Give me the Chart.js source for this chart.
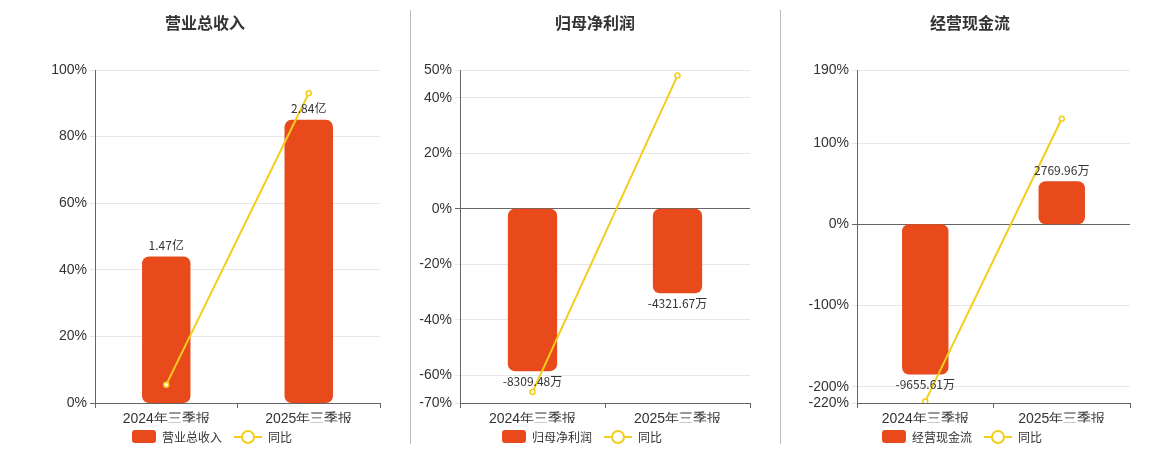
<!DOCTYPE html>
<html><head><meta charset="utf-8">
<script src="https://cdn.jsdelivr.net/npm/chart.js@4"></script>
<style>
body{margin:0;width:1160px;height:450px;background:#fff;font-family:"Noto Sans CJK SC","Noto Sans",sans-serif;position:relative;overflow:hidden}
.p{position:absolute;top:0;height:450px}
.t{position:absolute;top:10px;width:100%;text-align:center;font-weight:bold;font-size:16px;color:#333}
.sep{position:absolute;top:10px;height:434px;width:1px;background:#bbb}
.lg{position:absolute;top:428px;font-size:12px;color:#333;display:flex;align-items:center}
.sw{display:inline-block;width:24px;height:13px;background:#E84A1C;border-radius:3px;margin-right:6px}
.ln{display:inline-block;width:28px;height:14px;position:relative;margin:0 6px 0 12px}
.ln:before{content:"";position:absolute;left:0;right:0;top:6px;height:2px;background:#F2CE1A}
.ln:after{content:"";position:absolute;left:7px;top:0;width:10px;height:10px;border:2px solid #F2CE1A;border-radius:50%;background:#fff}
</style></head><body>
<div class="sep" style="left:410px"></div><div class="sep" style="left:780px"></div>
<script>
const categories=["2024年三季报","2025年三季报"];
const titles=["营业总收入","归母净利润","经营现金流"];
const barValues1=[1.47,2.84];const barLabels1=["1.47亿","2.84亿"];
const yoy1=[5.5,93];
const barValues2=[-8309.48,-4321.67];const barLabels2=["-8309.48万","-4321.67万"];
const yoy2=[-66,48];
const barValues3=[-9655.61,2769.96];const barLabels3=["-9655.61万","2769.96万"];
const yoy3=[-218,130];
const ticks1=[0,20,40,60,80,100];
const ticks2=[-70,-60,-40,-20,0,20,40,50];
const ticks3=[-220,-200,-100,0,100,190];
const panels=[
 {left:0,w:410,yw:95,pr:30,bars:barValues1,labels:barLabels1,yoy:yoy1,ticks:ticks1,bmin:0,bmax:3.34,lgx:132},
 {left:410,w:370,yw:50,pr:30,bars:barValues2,labels:barLabels2,yoy:yoy2,ticks:ticks2,bmin:-70*142,bmax:50*142,lgx:92},
 {left:780,w:380,yw:77,pr:30,bars:barValues3,labels:barLabels3,yoy:yoy3,ticks:ticks3,bmin:-220*52.2,bmax:190*52.2,lgx:102}
];
const labelPlugin={id:'bl',afterDatasetsDraw(c){const ctx=c.ctx;const m=c.getDatasetMeta(0);const L=c.options.plugins.bl.labels;
 ctx.save();ctx.font='12px "Noto Sans CJK SC",sans-serif';ctx.fillStyle='#333';ctx.textAlign='center';
 m.data.forEach((b,i)=>{const v=c.data.datasets[0].data[i];if(v>=0){ctx.textBaseline='bottom';ctx.fillText(L[i],b.x,b.y-5);}else{ctx.textBaseline='top';ctx.fillText(L[i],b.x,b.y+4);}});ctx.restore();}};
panels.forEach((p,k)=>{
 const d=document.createElement('div');d.className='p';d.style.left=p.left+'px';d.style.width=p.w+'px';
 d.innerHTML='<div class="t">'+titles[k]+'</div><canvas width="'+p.w+'" height="450"></canvas><div class="lg" style="left:'+p.lgx+'px"><span class="sw"></span>'+titles[k]+'<span class="ln"></span>同比</div>';
 document.body.appendChild(d);
 new Chart(d.querySelector('canvas'),{type:'bar',plugins:[labelPlugin],
  data:{labels:categories,datasets:[
   {type:'bar',data:p.bars,yAxisID:'y1',backgroundColor:'#E84A1C',borderRadius:7,borderSkipped:false,barPercentage:0.34,categoryPercentage:1,order:2},
   {type:'line',data:p.yoy,yAxisID:'y',borderColor:'#F2CE1A',borderWidth:2,pointRadius:2.5,pointBackgroundColor:'#fff',pointBorderColor:'#F2CE1A',pointBorderWidth:1.5,order:1}]},
  options:{responsive:false,animation:false,layout:{padding:{top:70,bottom:27,right:p.pr,left:0}},
   plugins:{legend:{display:false},tooltip:{enabled:false},bl:{labels:p.labels}},
   scales:{
    x:{grid:{offset:true,drawOnChartArea:false,tickLength:5,color:'#666'},border:{color:'#666'},ticks:{color:'#333',font:{size:14}},afterFit(a){a.height=20;}},
    y:{min:p.ticks[0],max:p.ticks[p.ticks.length-1],afterBuildTicks(a){a.ticks=p.ticks.map(v=>({value:v}));},
     afterFit(a){a.width=p.yw;},ticks:{color:'#333',font:{size:14},callback:v=>v+'%'},
     grid:{color:c=>c.tick&&c.tick.value===0?'#666':'#e6e6e6',tickLength:5},border:{color:'#666'}},
    y1:{display:false,min:p.bmin,max:p.bmax}
   }}});
});
</script></body></html>
